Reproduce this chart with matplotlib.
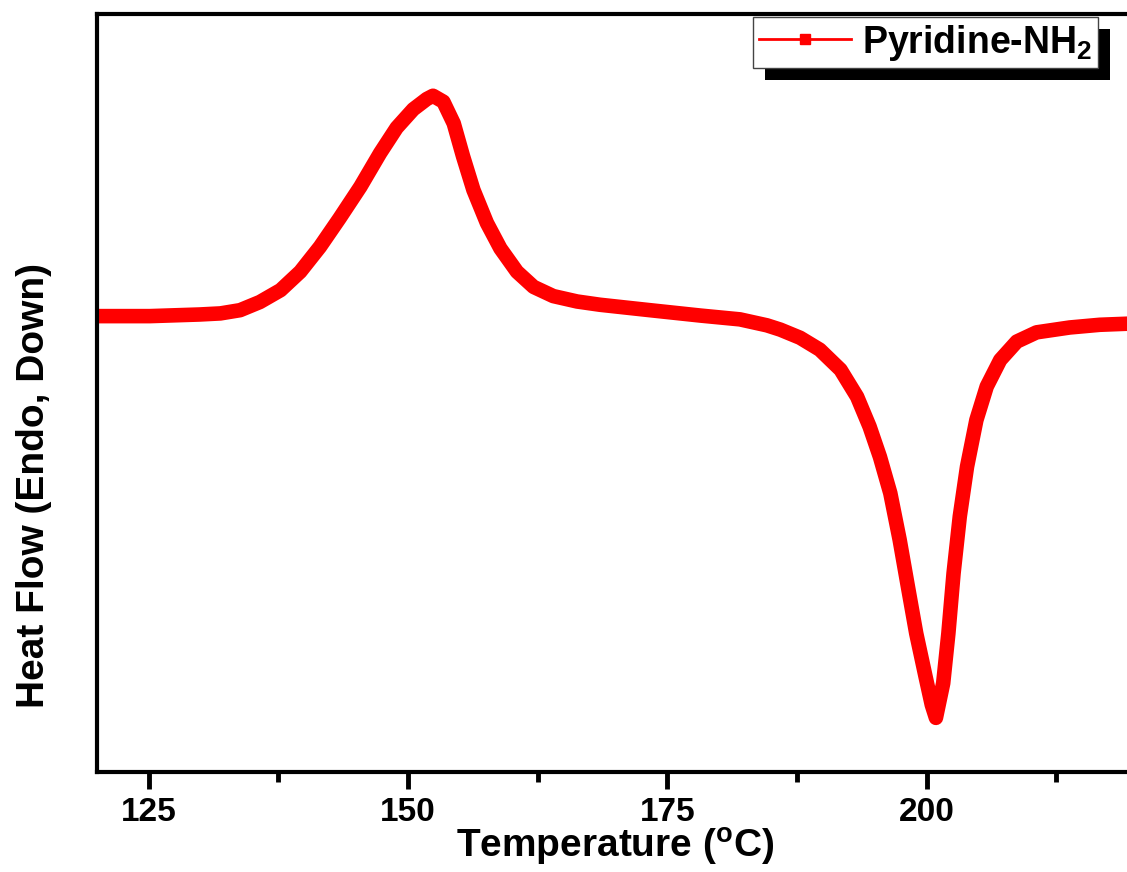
#!/usr/bin/env python3
"""DSC curve of Pyridine-NH2, heat flow vs temperature."""

import matplotlib

matplotlib.use("Agg")
import matplotlib.pyplot as plt
from matplotlib.patches import Rectangle

# values (heat flow in arbitrary units)
temperature = [120.0, 125.1, 129.9, 131.9, 133.8, 135.7, 137.7, 139.6, 141.5, 143.4,
               145.4, 147.3, 148.9, 150.5, 151.8, 152.4, 153.4, 154.4, 155.3, 156.3,
               157.6, 158.9, 160.5, 162.1, 164.0, 166.3, 168.5, 173.3, 178.2, 182.0,
               184.6, 185.9, 187.8, 189.7, 191.7, 193.3, 194.5, 195.5, 196.5, 197.4,
               198.2, 199.0, 199.9, 200.5, 200.9, 201.6, 202.1, 202.6, 203.2, 203.9,
               204.8, 205.8, 207.1, 208.7, 210.6, 213.8, 216.7, 219.4]
heat_flow = [8.42, 8.42, 8.45, 8.47, 8.53, 8.68, 8.90, 9.24, 9.70, 10.23,
             10.81, 11.43, 11.90, 12.24, 12.43, 12.49, 12.38, 11.98, 11.37, 10.75,
             10.14, 9.67, 9.24, 8.96, 8.79, 8.69, 8.63, 8.53, 8.43, 8.36,
             8.25, 8.17, 8.02, 7.80, 7.43, 6.93, 6.38, 5.82, 5.15, 4.29,
             3.42, 2.56, 1.76, 1.24, 1.00, 1.64, 2.56, 3.67, 4.72, 5.64,
             6.50, 7.12, 7.61, 7.95, 8.12, 8.21, 8.26, 8.28]
series_label = "Pyridine-NH$_2$"
x_major = [125, 150, 175, 200]
x_minor = [137.5, 162.5, 187.5, 212.5]
y_ticks = list(range(1, 14))

plt.rcParams["font.family"] = ["Liberation Sans", "DejaVu Sans"]
plt.rcParams["font.weight"] = "bold"
plt.rcParams["mathtext.fontset"] = "custom"
plt.rcParams["mathtext.rm"] = "Liberation Sans:bold"
plt.rcParams["mathtext.it"] = "Liberation Sans:bold"
plt.rcParams["mathtext.bf"] = "Liberation Sans:bold"
plt.rcParams["mathtext.default"] = "rm"

W, H = 1127, 872
fig = plt.figure(figsize=(W / 100, H / 100), dpi=100)
ax = fig.add_axes([97 / W, 100 / H, 1037 / W, 758 / H])

ax.plot(temperature, heat_flow, color="#ff0000", lw=10.5, solid_joinstyle="round",
        solid_capstyle="butt")

ax.set_xticks(x_major)
ax.set_xticks(x_minor, minor=True)
ax.set_yticks(y_ticks)
ax.set_yticklabels([])
ax.set_xlim(120, 220)
ax.set_ylim(0, 14)
for s in ax.spines.values():
    s.set_linewidth(3)
ax.spines["right"].set_visible(False)
ax.tick_params(axis="x", which="major", direction="out", length=12, width=3.5,
               labelsize=24, pad=6)
ax.tick_params(axis="x", which="minor", direction="out", length=7, width=3.5)
ax.tick_params(axis="y", direction="inout", length=2, width=2)

fig.text(615 / W, 14 / H, r"Temperature ($^{o}$C)", ha="center", va="baseline",
         fontsize=28, fontweight="bold")
fig.text(34 / W, 386 / H, "Heat Flow (Endo, Down)", rotation=90, ha="center",
         va="center", fontsize=28, fontweight="bold")

# legend handle: thin line with a square marker
h, = ax.plot([], [], color="#ff0000", lw=2, marker="s", markersize=7)
leg = ax.legend([h], [series_label], loc="upper left",
                bbox_to_anchor=(753 / W, 1 - 17 / H), bbox_transform=fig.transFigure,
                borderaxespad=0, handlelength=2.45, handletextpad=0.3,
                borderpad=0.15, fancybox=False, framealpha=1, edgecolor="#444444",
                prop={"weight": "bold", "size": 27})
leg.get_frame().set_linewidth(1.0)
leg.set_zorder(5)

fig.canvas.draw()
bb = leg.get_frame().get_window_extent()
shadow = Rectangle(((bb.x0 + 12) / W, (bb.y0 - 12) / H), bb.width / W, bb.height / H,
                   transform=fig.transFigure, facecolor="black", edgecolor="none",
                   zorder=4, clip_on=False)
ax.add_artist(shadow)

fig.savefig("out.png", dpi=100)
